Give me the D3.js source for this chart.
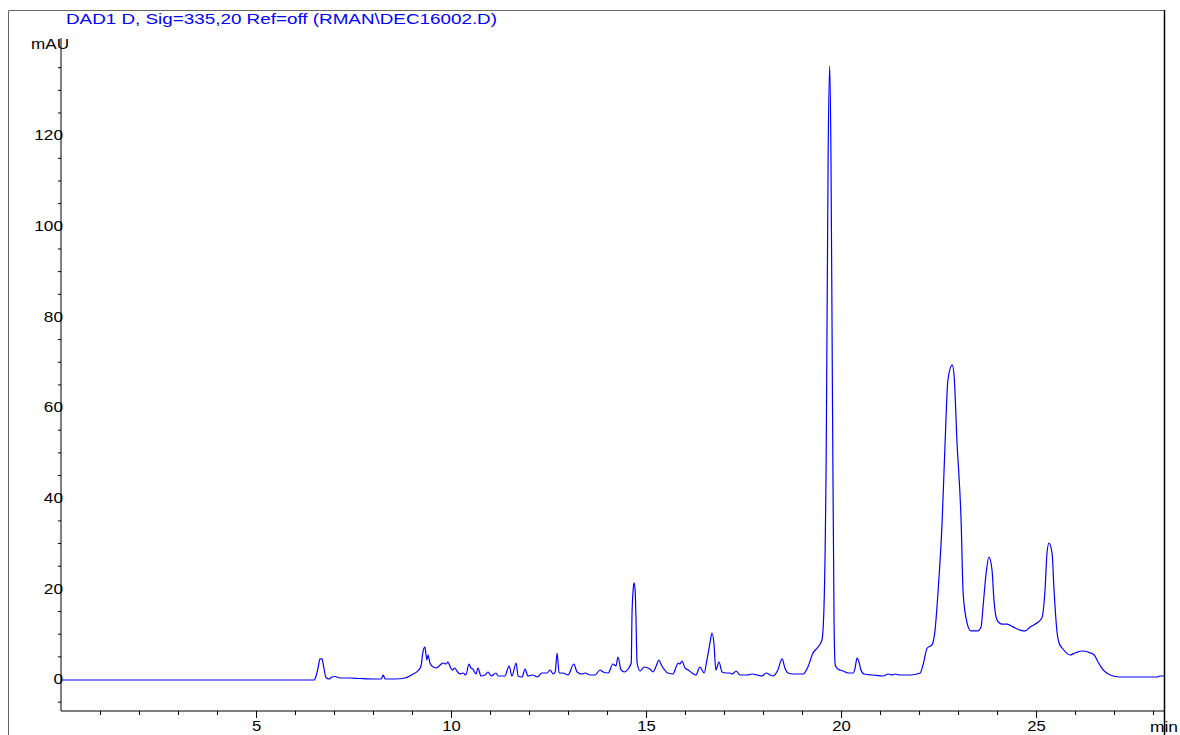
<!DOCTYPE html>
<html>
<head>
<meta charset="utf-8">
<script src="https://cdn.jsdelivr.net/npm/d3@7"></script>
<style>
  body { margin: 0; background: #fff; }
  text { font-family: "Liberation Sans", Arial, sans-serif; }
</style>
</head>
<body>
<div id="viz"></div>
<script>

// retention time (min) and absorbance (mAU)
var times = [0.03,2.28,4.85,6.49,6.54,6.59,6.64,6.69,6.74,6.79,6.87,6.95,7.03,7.15,7.41,7.67,8.05,8.21,8.26,8.31,8.56,8.82,
  9.03,9.15,9.23,9.28,9.33,9.36,9.38,9.41,9.46,9.51,9.62,9.72,9.79,9.87,9.92,9.97,10.03,10.10,10.15,10.23,10.31,10.38,10.46,
  10.51,10.56,10.64,10.69,10.77,10.87,10.95,11.03,11.15,11.21,11.38,11.49,11.56,11.67,11.72,11.82,11.90,11.97,12.10,12.21,
  12.33,12.46,12.54,12.62,12.67,12.72,12.77,12.87,13.00,13.15,13.23,13.36,13.44,13.56,13.69,13.82,13.90,14.03,14.15,14.23,
  14.28,14.36,14.44,14.54,14.62,14.64,14.67,14.69,14.72,14.74,14.77,14.85,14.95,15.10,15.18,15.26,15.33,15.38,15.44,15.56,
  15.69,15.77,15.82,15.87,15.92,16.00,16.08,16.18,16.28,16.38,16.49,16.56,16.64,16.69,16.74,16.79,16.87,16.95,17.05,17.15,
  17.21,17.31,17.41,17.59,17.72,17.85,17.97,18.08,18.18,18.26,18.38,18.49,18.56,18.64,18.77,19.03,19.15,19.28,19.41,19.51,
  19.56,19.62,19.67,19.71,19.74,19.78,19.82,19.85,19.92,20.05,20.18,20.31,20.36,20.41,20.46,20.51,20.59,20.82,21.08,21.21,
  21.31,21.38,21.51,21.77,22.03,22.10,22.21,22.33,22.41,22.49,22.59,22.67,22.74,22.85,22.90,22.97,23.08,23.13,23.23,23.33,
  23.49,23.59,23.64,23.72,23.79,23.87,23.92,24.00,24.13,24.26,24.41,24.59,24.72,24.85,25.03,25.15,25.23,25.28,25.33,25.41,
  25.46,25.54,25.59,25.69,25.87,26.00,26.18,26.33,26.49,26.59,26.72,26.90,27.15,27.67,28.10,28.18,28.28];
var mau = [-0.22,-0.22,-0.22,-0.22,0.66,2.43,4.42,4.42,2.43,0.44,0,0.44,0.55,0.22,0.22,0.11,0,0,0.88,0,0,0.22,
  1.10,1.77,2.87,5.96,7.06,5.30,4.19,5.30,3.53,2.87,2.43,3.09,3.53,3.31,3.75,2.87,1.99,2.43,1.77,1.10,1.32,0.88,3.31,
  2.43,2.21,1.10,2.43,0.66,0.88,1.55,0.66,1.32,0.66,0.66,2.87,0.66,3.53,0.66,0.44,2.21,0.66,0.88,0.44,
  1.32,1.32,1.99,1.10,1.55,5.74,1.32,1.32,0.88,3.31,1.55,1.10,1.32,0.88,0.88,1.99,1.55,1.32,3.31,2.87,
  4.86,1.99,1.55,2.21,3.53,14.1,19.7,21.2,19.7,14.1,3.53,1.77,2.65,2.21,1.55,2.87,4.19,3.31,2.43,1.32,
  1.10,2.65,3.53,3.31,3.97,2.43,1.99,1.32,0.88,2.65,1.32,4.19,7.95,10.15,7.95,1.99,3.75,1.55,1.32,1.32,
  1.10,1.77,0.88,0.88,1.10,0.88,0.66,1.32,0.88,0.66,1.99,4.42,2.43,1.32,1.10,1.10,2.65,5.74,7.06,8.61,
  15.2,50.5,116.8,135.3,116.8,61.6,13.0,3.09,2.21,1.77,1.32,1.32,2.43,4.64,3.75,1.99,1.10,0.88,0.66,1.10,
  0.88,1.10,0.88,0.88,1.32,3.09,6.84,7.51,10.8,19.7,34.4,52.8,66.0,69.3,66.7,52.8,34.4,19.0,12.4,10.6,
  10.6,11.5,15.9,23.4,26.9,24.1,17.4,13.0,12.1,12.1,11.5,10.8,10.6,11.5,12.4,13.5,19.7,27.8,30.0,27.8,
  19.7,10.15,7.95,6.62,5.30,5.74,6.18,5.96,5.30,3.75,1.99,0.88,0.44,0.44,0.44,0.66,0.66];

var xMajor = [5, 10, 15, 20, 25];
var xMinor = [1,2,3,4,6,7,8,9,11,12,13,14,16,17,18,19,21,22,23,24,26,27,28];
var yMajor = [0, 20, 40, 60, 80, 100, 120];
var yMinor = [-5,5,10,15,25,30,35,45,50,55,65,70,75,85,90,95,105,110,115,125,130,135];

var titleText = "DAD1 D, Sig=335,20 Ref=off (RMAN\\DEC16002.D)";
var blue = "#0000ff";

var viz = { width: 1180, height: 735 };
var plot = { left: 61, right: 1164, top: 40, bottom: 711 };

var svg = d3.select("#viz")
  .append("svg")
  .attr("width", viz.width)
  .attr("height", viz.height);

var x = d3.scaleLinear().domain([0, 28.28]).range([plot.left, plot.right]);
var y = d3.scaleLinear().domain([-7.06, 141]).range([plot.bottom, plot.top]);

// outer frame
svg.append("path")
  .attr("d", "M8.5,735V10.5H1164")
  .attr("fill", "none")
  .attr("stroke", "#666")
  .attr("stroke-width", 1);
svg.append("line")
  .attr("x1", 1164.5).attr("x2", 1164.5)
  .attr("y1", 10).attr("y2", 735)
  .attr("stroke", "#000")
  .attr("stroke-width", 1.5);

svg.append("text")
  .attr("x", 66)
  .attr("y", 23.5)
  .attr("fill", blue)
  .attr("font-size", 15)
  .attr("textLength", 431)
  .attr("lengthAdjust", "spacingAndGlyphs")
  .text(titleText);

// x axis
var gx = svg.append("g").attr("transform", "translate(0," + plot.bottom + ")");
gx.append("line")
  .attr("x1", plot.left).attr("x2", plot.right)
  .attr("stroke", "#000");
gx.call(d3.axisBottom(x).tickValues(xMinor).tickSize(4).tickFormat(""))
  .call(g => g.select(".domain").remove());
var gx2 = svg.append("g").attr("transform", "translate(0," + plot.bottom + ")");
gx2.call(d3.axisBottom(x).tickValues(xMajor).tickSize(7).tickPadding(3))
  .call(g => g.select(".domain").remove());
gx2.selectAll("text")
  .attr("font-size", 14.5)
  .attr("font-family", null)
  .attr("fill", "#000")
  .attr("transform", "scale(1.15,1)");

svg.append("text")
  .attr("x", 1150)
  .attr("y", 732)
  .attr("font-size", 14.5)
  .attr("textLength", 28)
  .attr("lengthAdjust", "spacingAndGlyphs")
  .text("min");

// y axis
var gy = svg.append("g").attr("transform", "translate(" + plot.left + ",0)");
gy.append("line")
  .attr("y1", plot.top - 2).attr("y2", plot.bottom)
  .attr("stroke", "#000");
gy.call(d3.axisLeft(y).tickValues(yMinor).tickSize(3).tickFormat(""))
  .call(g => g.select(".domain").remove());
var gy2 = svg.append("g").attr("transform", "translate(" + plot.left + ",0)");
gy2.call(d3.axisLeft(y).tickValues(yMajor).tickSize(0))
  .call(g => g.select(".domain").remove());
gy2.selectAll("text")
  .attr("x", 2 / 1.15)
  .attr("font-size", 15)
  .attr("font-family", null)
  .attr("fill", "#000")
  .attr("transform", "scale(1.15,1)");

svg.append("text")
  .attr("x", 69)
  .attr("y", 48.5)
  .attr("text-anchor", "end")
  .attr("font-size", 15)
  .attr("textLength", 38)
  .attr("lengthAdjust", "spacingAndGlyphs")
  .text("mAU");

// trace
var line = d3.line()
  .x(function(d, i) { return x(times[i]) })
  .y(function(d) { return y(d) })
  .curve(d3.curveMonotoneX);

svg.append("path")
  .datum(mau)
  .attr("d", line)
  .attr("fill", "none")
  .attr("stroke", blue)
  .attr("stroke-width", 1.2)
  .attr("stroke-linejoin", "round");

</script>
</body>
</html>
